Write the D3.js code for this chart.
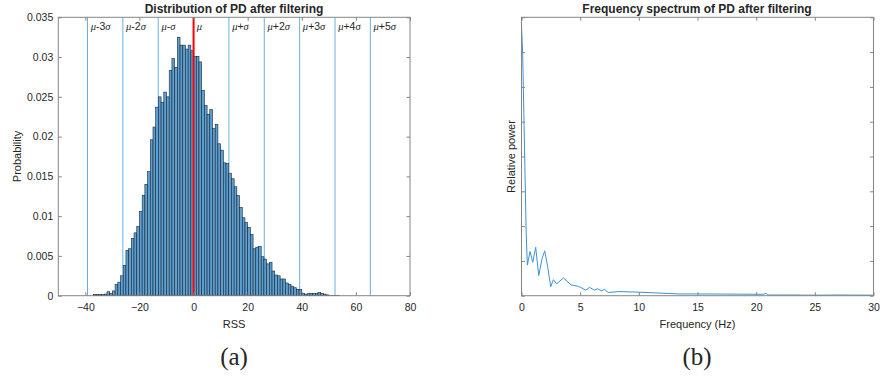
<!DOCTYPE html>
<html>
<head>
<meta charset="utf-8">
<script src="https://cdn.jsdelivr.net/npm/d3@7"></script>
<style>
  body { margin: 0; background: #fff; }
  svg text { font-family: "Liberation Sans", Arial, Helvetica, sans-serif; fill: #262626; }
</style>
</head>
<body>
<svg id="fig" width="882" height="383"></svg>
<script>
// ---- Histogram of PD after filtering (bins of width 1, left edges from binStart) ----
const binStart = -37;
const binProb = [
  0.00015, 0.00015, 0.00015, 0.00015, 0.0002, 0.0005, 0.0003, 0.0006, 0.0014, 0.0017,
  0.0025, 0.0038, 0.0057, 0.0059, 0.0072, 0.0079, 0.0087, 0.0106, 0.0126, 0.0140,
  0.0156, 0.0196, 0.0212, 0.0237, 0.0250, 0.0243, 0.0256, 0.0250, 0.0283, 0.0298,
  0.0287, 0.0325, 0.0315, 0.0315, 0.0310, 0.0315, 0.0308, 0.0301, 0.0301, 0.0294,
  0.0258, 0.0239, 0.0228, 0.0234, 0.0210, 0.0215, 0.0191, 0.0183, 0.0167, 0.0166,
  0.0154, 0.0147, 0.0137, 0.0126, 0.0111, 0.0098, 0.0092, 0.0086, 0.0077, 0.0059,
  0.0061, 0.0062, 0.0049, 0.0046, 0.0040, 0.0042, 0.0031, 0.0026, 0.0025, 0.0021,
  0.0021, 0.0016, 0.0014, 0.0012, 0.0010, 0.0008, 0.0008, 0.0003, 0.0002, 0.00025,
  0.0003, 0.0003, 0.0003, 0.0004, 0.0003, 0.0002, 0.0001, 0.00005, 0.00005, 0.00005,
  0.00005
];
const mu = 0;
const sigma = 13.07;
const sigmaSteps = [-3, -2, -1, 0, 1, 2, 3, 4, 5];
const histXTicks = [-40, -20, 0, 20, 40, 60, 80];
const histYTicks = [0, 0.005, 0.01, 0.015, 0.02, 0.025, 0.03, 0.035];

// ---- Frequency spectrum of PD after filtering ----
const freqHz = [
  0, 0.1, 0.2, 0.3, 0.4, 0.5, 0.73, 0.96, 1.21, 1.47,
  1.75, 1.98, 2.24, 2.49, 2.72, 3.0, 3.57, 4.23, 4.86, 5.48,
  5.8, 6.2, 6.5, 6.8, 7.08, 7.4, 8.25, 10.1, 13.5, 15.2,
  20.6, 20.85, 21.0, 21.2, 23, 25, 27, 30
];
const relPower = [
  7.77, 6.95, 5.23, 3.5, 1.78, 0.88, 1.27, 0.96, 1.39, 0.58,
  1.06, 1.29, 0.81, 0.26, 0.46, 0.34, 0.51, 0.31, 0.27, 0.16,
  0.24, 0.16, 0.2, 0.14, 0.18, 0.09, 0.12, 0.1, 0.05, 0.05,
  0.04, 0.07, 0.02, 0.02, 0.02, 0.015, 0.02, 0.015
];
const specXTicks = [0, 5, 10, 15, 20, 25, 30];
const specYTicks = [0, 1, 2, 3, 4, 5, 6, 7, 8];

const svg = d3.select("#fig");
const frameColor = "#858585";
const tickLen = 3.5;

// Panel geometry
const L = { x0: 58.3, x1: 410, y0: 17.3, y1: 295.7 };
const R = { x0: 521.5, x1: 873.5, y0: 17.3, y1: 295.7 };

const xH = d3.scaleLinear().domain([-50, 80]).range([L.x0, L.x1]);
const yH = d3.scaleLinear().domain([0, 0.035]).range([L.y1, L.y0]);
const xS = d3.scaleLinear().domain([0, 30]).range([R.x0, R.x1]);
const yS = d3.scaleLinear().domain([0, 8]).range([R.y1, R.y0]);

function styleAxis(g) {
  g.select(".domain").remove();
  g.selectAll(".tick line").attr("stroke", frameColor);
  g.selectAll(".tick text").attr("fill", "#262626").style("font-size", "10.5px")
    .style("font-family", "'Liberation Sans', Arial, sans-serif");
}

function frame(P, xs, ys, xt, yt, xFmt, yFmt) {
  svg.append("g").attr("transform", `translate(0,${P.y1})`)
    .call(d3.axisBottom(xs).tickValues(xt).tickFormat(xFmt).tickSizeInner(-tickLen).tickSizeOuter(0).tickPadding(8))
    .call(styleAxis);
  svg.append("g").attr("transform", `translate(0,${P.y0})`)
    .call(d3.axisTop(xs).tickValues(xt).tickFormat("").tickSizeInner(-tickLen).tickSizeOuter(0))
    .call(styleAxis);
  svg.append("g").attr("transform", `translate(${P.x0},0)`)
    .call(d3.axisLeft(ys).tickValues(yt).tickFormat(yFmt).tickSizeInner(-tickLen).tickSizeOuter(0).tickPadding(5))
    .call(styleAxis);
  svg.append("g").attr("transform", `translate(${P.x1},0)`)
    .call(d3.axisRight(ys).tickValues(yt).tickFormat("").tickSizeInner(-tickLen).tickSizeOuter(0))
    .call(styleAxis);
  svg.append("rect").attr("x", P.x0).attr("y", P.y0)
    .attr("width", P.x1 - P.x0).attr("height", P.y1 - P.y0)
    .attr("fill", "none").attr("stroke", frameColor).attr("stroke-width", 1);
}

// ===== Left panel: histogram =====
// Sigma reference lines sit behind the bars
const sigmaLines = svg.append("g");
sigmaSteps.filter(k => k !== 0).forEach(k => {
  const x = xH(mu + k * sigma);
  if (x > L.x1) return;
  sigmaLines.append("line")
    .attr("x1", x).attr("x2", x).attr("y1", L.y0).attr("y2", L.y1)
    .attr("stroke", "#66b1e2").attr("stroke-width", 1);
});

const bins = binProb.map((p, i) => ({ x0: binStart + i, x1: binStart + i + 1, p }));
svg.append("g").selectAll("rect").data(bins).join("rect")
  .attr("x", d => xH(d.x0))
  .attr("width", d => xH(d.x1) - xH(d.x0))
  .attr("y", d => yH(d.p))
  .attr("height", d => yH(0) - yH(d.p))
  .attr("fill", "#5b9fd3")
  .attr("stroke", "#1b2630")
  .attr("stroke-width", 0.6);

// Mean line on top of the bars
svg.append("line")
  .attr("x1", xH(mu)).attr("x2", xH(mu)).attr("y1", L.y0).attr("y2", L.y1)
  .attr("stroke", "#ff0000").attr("stroke-width", 2);

// Sigma labels: italic Greek, upright digits
const labG = svg.append("g");
sigmaSteps.forEach(k => {
  const x = xH(mu + k * sigma);
  if (x > L.x1) return;
  const t = labG.append("text").attr("x", x + 3.2).attr("y", 30)
    .style("font-size", "10.5px");
  t.append("tspan").text("μ").style("font-style", "italic").style("font-family", "'Liberation Serif', serif");
  if (k !== 0) {
    const sign = k < 0 ? "-" : "+";
    const mag = Math.abs(k) === 1 ? "" : String(Math.abs(k));
    t.append("tspan").text(sign + mag);
    t.append("tspan").text("σ").style("font-style", "italic").style("font-family", "'Liberation Serif', serif");
  }
});

frame(L, xH, yH, histXTicks, histYTicks, d3.format("d"), d => d === 0 ? "0" : String(d));

svg.append("text").attr("x", 234).attr("y", 13)
  .attr("text-anchor", "middle").style("font-size", "12px").style("font-weight", "bold")
  .attr("fill", "#000").text("Distribution of PD after filtering");
svg.append("text").attr("x", (L.x0 + L.x1) / 2).attr("y", 328)
  .attr("text-anchor", "middle").style("font-size", "11px").text("RSS");
svg.append("text").attr("transform", `translate(20.5,${(L.y0 + L.y1) / 2}) rotate(-90)`)
  .attr("text-anchor", "middle").style("font-size", "11px").text("Probability");

// ===== Right panel: spectrum =====
const line = d3.line().x((d, i) => xS(freqHz[i])).y(d => yS(d));
svg.append("path").datum(relPower)
  .attr("d", line).attr("fill", "none")
  .attr("stroke", "#3d93d4").attr("stroke-width", 1);

frame(R, xS, yS, specXTicks, specYTicks, d3.format("d"), "");

svg.append("text").attr("x", 697).attr("y", 13)
  .attr("text-anchor", "middle").style("font-size", "12px").style("font-weight", "bold")
  .attr("fill", "#000").text("Frequency spectrum of PD after filtering");
svg.append("text").attr("x", (R.x0 + R.x1) / 2).attr("y", 328)
  .attr("text-anchor", "middle").style("font-size", "11px").text("Frequency (Hz)");
svg.append("text").attr("transform", `translate(515,${(R.y0 + R.y1) / 2}) rotate(-90)`)
  .attr("text-anchor", "middle").style("font-size", "11px").text("Relative power");

// Sub-figure captions
[["(a)", 234], ["(b)", 697]].forEach(([s, x]) => {
  svg.append("text").attr("x", x).attr("y", 365).attr("text-anchor", "middle")
    .style("font-family", "'Liberation Serif', 'DejaVu Serif', serif").style("font-size", "25px")
    .attr("fill", "#000").text(s);
});
</script>
</body>
</html>
